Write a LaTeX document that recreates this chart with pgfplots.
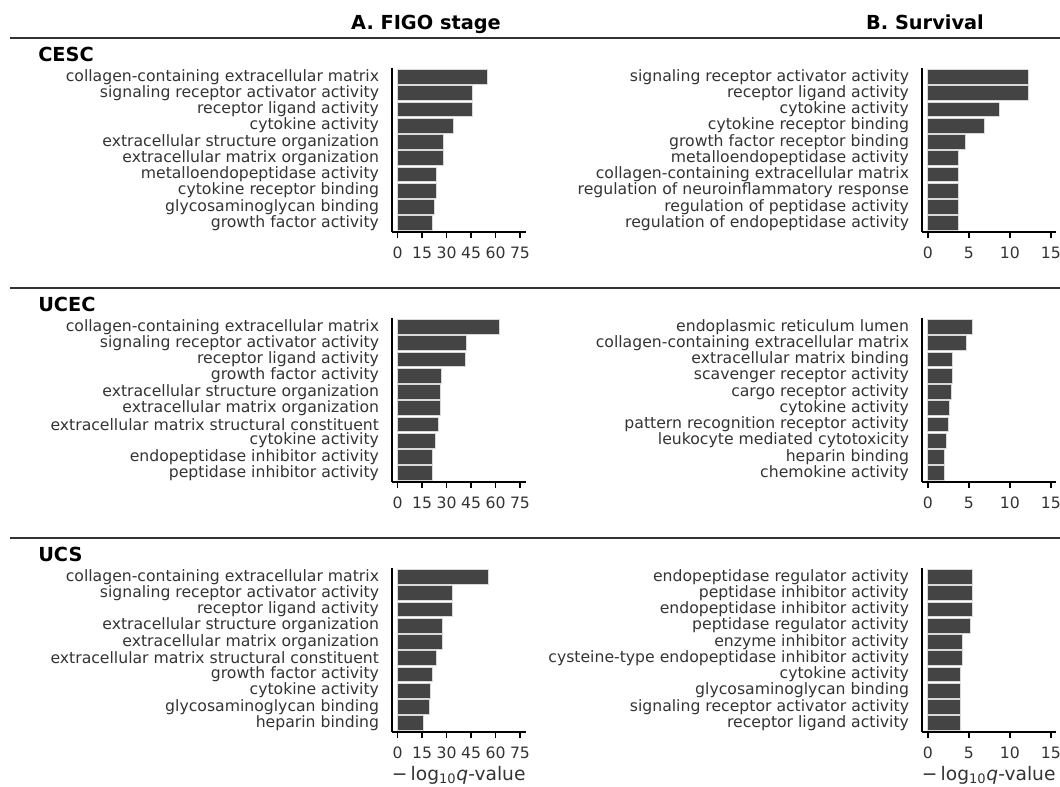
\documentclass[border=0pt]{standalone}
\usepackage{pgfplots}
\pgfplotsset{compat=1.18}
\usepackage{fontspec}
\setmainfont{DejaVu Sans}
\definecolor{barc}{HTML}{444444}
\definecolor{edgec}{HTML}{D9D9D9}
\definecolor{txt}{HTML}{333333}
\definecolor{sep}{HTML}{333333}
\def\px{0.75pt}
\pgfplotsset{
 panel/.style={
  scale only axis, width=100.5pt, height=123pt,
  axis x line*=bottom, axis y line*=left,
  axis line style={line width=1.5pt, black, -},
  y dir=reverse, ymin=-0.55, ymax=9.55,
  ytick={0,...,9},
  major y tick style={draw=none},
  tick align=outside, major tick length=4.5pt,
  major x tick style={line width=1.1pt, black},
  xbar, bar width=0.9,
  tick label style={font=\fontsize{11.75}{13}\selectfont, text=txt},
  yticklabel style={xshift=-1.5pt},
  xticklabel style={yshift=-3pt},
  /pgf/number format/assume math mode=true,
  xlabel style={font=\fontsize{14}{16}\selectfont, text=txt, yshift=0.8pt},
  clip=false,
 },
 panelA/.style={panel, xmin=-3.7, xmax=78.5, xtick={0,15,...,75}},
 panelB/.style={panel, xmin=-0.74, xmax=15.6, xtick={0,5,10,15}},
 bars/.style={fill=barc, draw=edgec, line width=0.6pt},
}
\newcommand{\xlab}{−\,log\textsubscript{10}\textit{q}-value}
\begin{document}
\begin{tikzpicture}
\useasboundingbox (0,0) rectangle (795pt,-589.5pt);
% titles
\node[anchor=base, font=\fontsize{14.5}{17}\bfseries\selectfont] at (426*\px,-29*\px) {A. FIGO stage};
\node[anchor=base, font=\fontsize{14.5}{17}\bfseries\selectfont] at (925*\px,-29*\px) {B. Survival};
% separators and row labels
\foreach \yy/\name in {0/CESC,250/UCEC,500/UCS}{
  \draw[sep, line width=1.5pt] (10*\px,{-(38+\yy)*0.75pt}) -- (1060*\px,{-(38+\yy)*0.75pt});
  \node[anchor=base west, font=\fontsize{14.5}{17}\bfseries\selectfont, inner sep=0pt] at (38*\px,{-(61.7+\yy)*0.75pt}) {\name};
}
% ---- CESC
\begin{axis}[panelA, at={(391.7*\px,-232*\px)}, anchor=south west,
 yticklabels={collagen-containing extracellular matrix,signaling receptor activator activity,receptor ligand activity,cytokine activity,extracellular structure organization,extracellular matrix organization,metalloendopeptidase activity,cytokine receptor binding,glycosaminoglycan binding,growth factor activity}]
\addplot[bars] coordinates {(55.0,0) (45.6,1) (45.6,2) (34.4,3) (28.2,4) (28.2,5) (23.5,6) (23.5,7) (22.5,8) (21.5,9)};
\end{axis}
\begin{axis}[panelB, at={(921.7*\px,-232*\px)}, anchor=south west,
 yticklabels={signaling receptor activator activity,receptor ligand activity,cytokine activity,cytokine receptor binding,growth factor receptor binding,metalloendopeptidase activity,collagen-containing extracellular matrix,regulation of neuroinflammatory response,regulation of peptidase activity,regulation of endopeptidase activity}]
\addplot[bars] coordinates {(12.3,0) (12.3,1) (8.7,2) (6.9,3) (4.58,4) (3.76,5) (3.76,6) (3.68,7) (3.68,8) (3.68,9)};
\end{axis}
% ---- UCEC
\begin{axis}[panelA, at={(391.7*\px,-482*\px)}, anchor=south west,
 yticklabels={collagen-containing extracellular matrix,signaling receptor activator activity,receptor ligand activity,growth factor activity,extracellular structure organization,extracellular matrix organization,extracellular matrix structural constituent,cytokine activity,endopeptidase inhibitor activity,peptidase inhibitor activity}]
\addplot[bars] coordinates {(62.2,0) (42.1,1) (41.3,2) (26.8,3) (26.2,4) (26.2,5) (24.7,6) (23.1,7) (21.5,8) (21.1,9)};
\end{axis}
\begin{axis}[panelB, at={(921.7*\px,-482*\px)}, anchor=south west,
 yticklabels={endoplasmic reticulum lumen,collagen-containing extracellular matrix,extracellular matrix binding,scavenger receptor activity,cargo receptor activity,cytokine activity,pattern recognition receptor activity,leukocyte mediated cytotoxicity,heparin binding,chemokine activity}]
\addplot[bars] coordinates {(5.44,0) (4.70,1) (2.98,2) (2.98,3) (2.86,4) (2.62,5) (2.49,6) (2.25,7) (2.0,8) (2.0,9)};
\end{axis}
% ---- UCS
\begin{axis}[panelA, at={(391.7*\px,-732*\px)}, anchor=south west, xlabel={\xlab},
 yticklabels={collagen-containing extracellular matrix,signaling receptor activator activity,receptor ligand activity,extracellular structure organization,extracellular matrix organization,extracellular matrix structural constituent,growth factor activity,cytokine activity,glycosaminoglycan binding,heparin binding}]
\addplot[bars] coordinates {(55.4,0) (33.3,1) (33.3,2) (27.2,3) (27.2,4) (23.5,5) (21.5,6) (19.8,7) (19.2,8) (16.0,9)};
\end{axis}
\begin{axis}[panelB, at={(921.7*\px,-732*\px)}, anchor=south west, xlabel={\xlab},
 yticklabels={endopeptidase regulator activity,peptidase inhibitor activity,endopeptidase inhibitor activity,peptidase regulator activity,enzyme inhibitor activity,cysteine-type endopeptidase inhibitor activity,cytokine activity,glycosaminoglycan binding,signaling receptor activator activity,receptor ligand activity}]
\addplot[bars] coordinates {(5.44,0) (5.44,1) (5.44,2) (5.19,3) (4.25,4) (4.25,5) (4.0,6) (4.0,7) (3.96,8) (3.96,9)};
\end{axis}
\end{tikzpicture}
\end{document}
